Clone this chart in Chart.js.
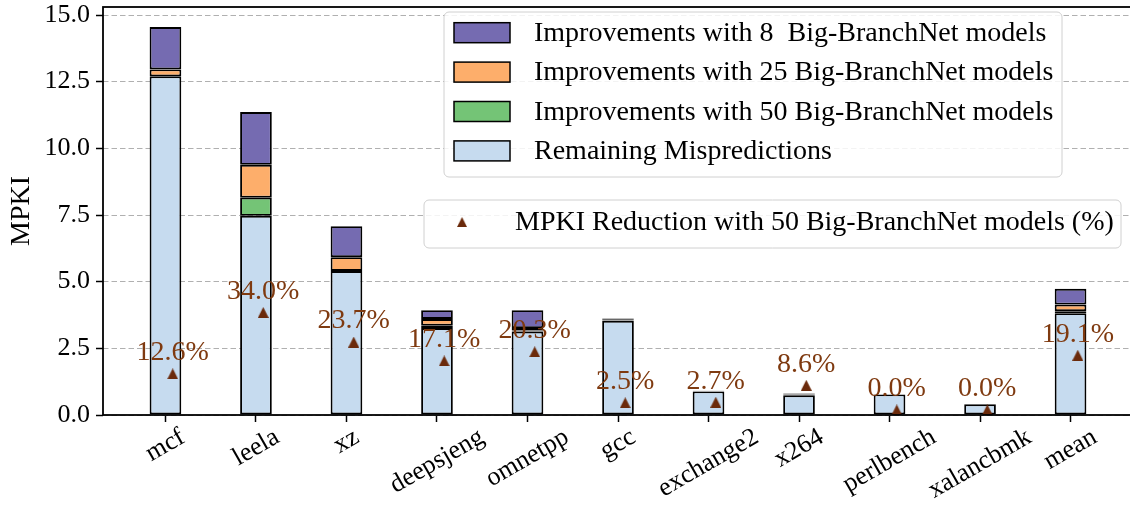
<!DOCTYPE html>
<html>
<head>
<meta charset="utf-8">
<script src="https://cdn.jsdelivr.net/npm/chart.js@4/dist/chart.umd.min.js"></script>
<style>
  html, body { margin: 0; padding: 0; background: #fff; overflow: hidden; }
  canvas { display: block; }
</style>
</head>
<body>
<canvas id="mpki-chart" width="1140" height="508"></canvas>
<script>
/* MPKI breakdown per benchmark, stacked bars + reduction markers */

const categories = ['mcf', 'leela', 'xz', 'deepsjeng', 'omnetpp', 'gcc', 'exchange2', 'x264', 'perlbench', 'xalancbmk', 'mean'];
const remaining  = [12.70, 7.47, 5.40, 3.26, 3.13, 3.53, 0.885, 0.74, 0.77, 0.40, 3.82];
const impr50     = [0.00, 0.68, 0.00, 0.09, 0.04, 0.02, 0.008, 0.02, 0.00, 0.00, 0.07];
const impr25     = [0.26, 1.23, 0.52, 0.25, 0.09, 0.02, 0.008, 0.02, 0.00, 0.00, 0.25];
const impr8      = [1.59, 1.98, 1.16, 0.33, 0.67, 0.05, 0.009, 0.03, 0.00, 0.00, 0.59];
const reductionPct = [12.6, 34.0, 23.7, 17.1, 20.3, 2.5, 2.7, 8.6, 0.0, 0.0, 19.1];
const yTicks = [0, 2.5, 5, 7.5, 10, 12.5, 15];

const FONT = '"Liberation Serif", "Times New Roman", serif';
const MARKER_COLOR = '#6b2a0b';
const LABEL_COLOR = '#7f3a10';
const markerShift = 0.08;   // triangles sit a bit right of the bar centre

function triangleImage(size, color) {
    const c = document.createElement('canvas');
    c.width = size; c.height = size;
    const g = c.getContext('2d');
    g.fillStyle = color;
    g.beginPath();
    g.moveTo(size / 2, 0);
    g.lineTo(size, size);
    g.lineTo(0, size);
    g.closePath();
    g.fill();
    return c;
}
const tri = triangleImage(11, MARKER_COLOR);

const toPoints = (arr, shift = 0) => arr.map((v, i) => ({ x: i + shift, y: v }));

function barSet(label, values, color) {
    return {
        type: 'bar',
        label: label,
        data: toPoints(values),
        backgroundColor: color,
        borderColor: '#000',
        borderWidth: 1.9,
        borderSkipped: false,
        barPercentage: 0.35,
        categoryPercentage: 1,
        order: 1
    };
}

const datasets = [
    {
        type: 'scatter',
        label: 'MPKI Reduction with 50 Big-BranchNet models (%)',
        data: toPoints(reductionPct, markerShift),
        yAxisID: 'y2',
        pointStyle: tri,
        pointRadius: 6,
        order: 0
    },
    barSet('Remaining Mispredictions', remaining, '#c6dbef'),
    barSet('Improvements with 50 Big-BranchNet models', impr50, '#74c476'),
    barSet('Improvements with 25 Big-BranchNet models', impr25, '#fdae6b'),
    barSet('Improvements with 8  Big-BranchNet models', impr8, '#756bb1')
];

function zeroPadding(scale) {
    scale.paddingTop = 0;
    scale.paddingBottom = 0;
    scale.paddingLeft = 0;
    scale.paddingRight = 0;
}

const decorations = {
    id: 'decorations',
    afterDatasetsDraw(chart) {
        const { ctx, chartArea: a, scales: { x, y2 } } = chart;
        ctx.save();
        // frame
        ctx.strokeStyle = '#000';
        ctx.lineWidth = 1.8;
        ctx.strokeRect(a.left, a.top, a.right - a.left, a.bottom - a.top);
        // percent labels above markers
        ctx.font = '28px ' + FONT;
        ctx.fillStyle = LABEL_COLOR;
        ctx.textAlign = 'center';
        ctx.textBaseline = 'middle';
        reductionPct.forEach((p, i) => {
            const px = x.getPixelForValue(i + markerShift);
            const py = y2.getPixelForValue(p) - 21;
            ctx.fillText(p.toFixed(1) + '%', px, py);
        });
        ctx.restore();
    },
    afterDraw(chart) {
        const { ctx, chartArea: a, scales: { x } } = chart;
        ctx.save();
        // rotated category labels, centred under the ticks
        ctx.font = '26px ' + FONT;
        ctx.fillStyle = '#000';
        ctx.textAlign = 'center';
        ctx.textBaseline = 'middle';
        const rot = Math.PI / 6;
        const top = a.bottom + 10;
        categories.forEach((name, i) => {
            const w = ctx.measureText(name).width;
            const h = 24;
            const boxH = w * Math.sin(rot) + h * Math.cos(rot);
            ctx.save();
            ctx.translate(x.getPixelForValue(i), top + boxH / 2);
            ctx.rotate(-rot);
            ctx.fillText(name, 0, 0);
            ctx.restore();
        });

        // legends
        const bars = chart.data.datasets.filter(d => d.type === 'bar').slice().reverse();
        function box(x0, y0, w, h) {
            ctx.beginPath();
            ctx.roundRect(x0, y0, w, h, 5);
            ctx.fillStyle = 'rgba(255,255,255,0.85)';
            ctx.fill();
            ctx.strokeStyle = '#d0d0d0';
            ctx.lineWidth = 1;
            ctx.stroke();
        }
        ctx.font = '28px ' + FONT;
        ctx.textAlign = 'left';
        ctx.textBaseline = 'middle';

        box(444, 12, 618, 165);
        bars.forEach((d, i) => {
            const cy = 32.7 + i * 39.4;
            ctx.fillStyle = d.backgroundColor;
            ctx.fillRect(454, cy - 10, 56, 20);
            ctx.strokeStyle = '#000';
            ctx.lineWidth = 1.5;
            ctx.strokeRect(454, cy - 10, 56, 20);
            ctx.fillStyle = '#000';
            ctx.fillText(d.label, 534, cy + 1);
        });

        box(424, 200, 697, 48);
        const sc = chart.data.datasets.find(d => d.type === 'scatter');
        ctx.drawImage(tri, 457, 217, 10, 10);
        ctx.fillStyle = '#000';
        ctx.fillText(sc.label, 515, 223);
        ctx.restore();
    }
};

new Chart(document.getElementById('mpki-chart'), {
    data: { datasets: datasets },
    options: {
        responsive: false,
        animation: false,
        layout: { padding: { left: 0, top: 5, right: 7, bottom: 0 } },
        plugins: {
            legend: { display: false },
            tooltip: { enabled: false }
        },
        scales: {
            x: {
                type: 'linear',
                stacked: true,
                offset: false,
                min: -0.69,
                max: 10.69,
                afterBuildTicks: (scale) => { scale.ticks = categories.map((_, i) => ({ value: i })); },
                afterFit: (scale) => { scale.height = 93; zeroPadding(scale); },
                grid: { offset: false, drawOnChartArea: false, drawTicks: true, tickLength: 7, tickColor: '#000', tickWidth: 1.5 },
                border: { display: false },
                ticks: { display: false }
            },
            y: {
                stacked: true,
                min: 0,
                max: 15.3,
                afterBuildTicks: (scale) => { scale.ticks = yTicks.map(v => ({ value: v })); },
                afterFit: (scale) => { scale.width = 103; zeroPadding(scale); },
                grid: { color: '#b0b0b0', lineWidth: 1, tickLength: 7, tickColor: '#000', tickWidth: 1.5 },
                border: { display: false, dash: [5.5, 3] },
                ticks: {
                    color: '#000',
                    padding: 6,
                    font: { family: FONT, size: 26 },
                    callback: (v) => Number(v).toFixed(1)
                },
                title: {
                    display: true,
                    text: 'MPKI',
                    color: '#000',
                    font: { family: FONT, size: 28 },
                    padding: { top: 5, bottom: 0 }
                }
            },
            y2: {
                display: false,
                stacked: false,
                min: -1.77,
                max: 140.6,
                afterFit: zeroPadding
            }
        }
    },
    plugins: [decorations]
});
</script>
</body>
</html>
